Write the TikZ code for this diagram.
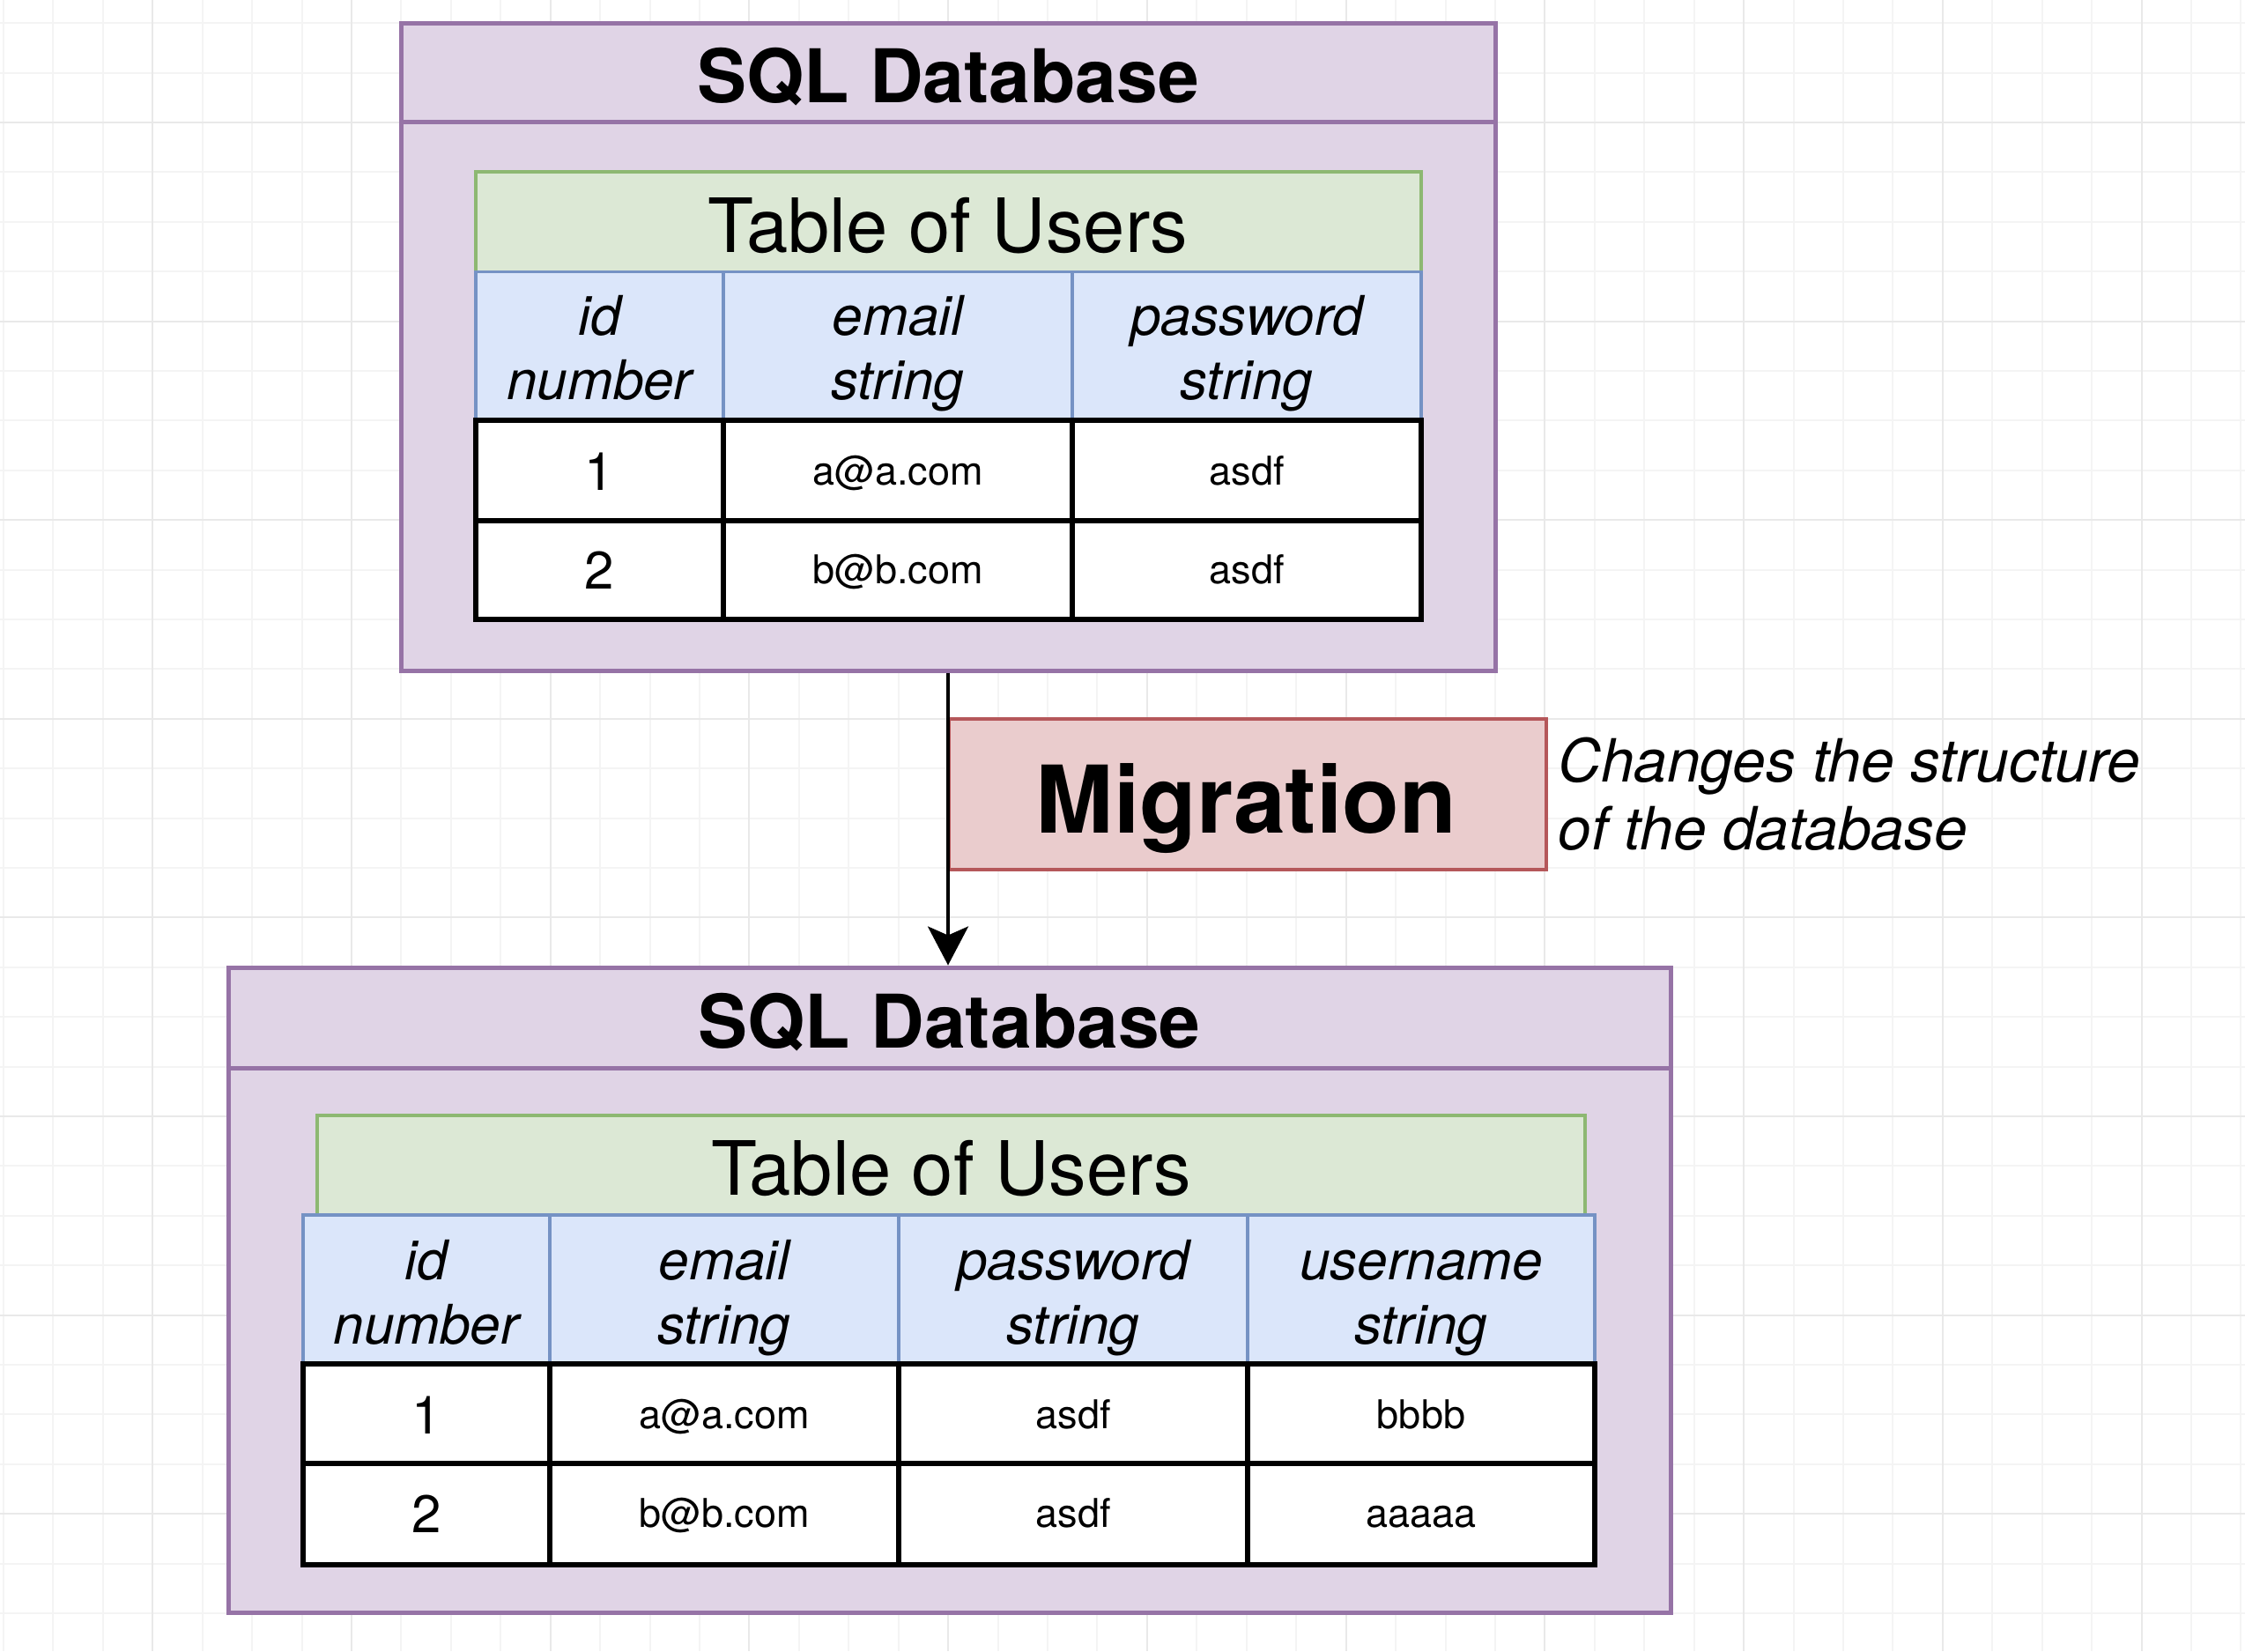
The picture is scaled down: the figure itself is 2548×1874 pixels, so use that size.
\documentclass[tikz,border=0pt]{standalone}
\usepackage{fontspec}
\setmainfont{TeX Gyre Heros}
\usetikzlibrary{fit,arrows.meta}
\definecolor{dbfill}{HTML}{E0D4E6}
\definecolor{dbdraw}{HTML}{9673A6}
\definecolor{grfill}{HTML}{DCE8D5}
\definecolor{grdraw}{HTML}{8DB872}
\definecolor{blfill}{HTML}{DBE6FA}
\definecolor{bldraw}{HTML}{7592C4}
\definecolor{mgfill}{HTML}{EACCCD}
\definecolor{mgdraw}{HTML}{B5575A}
\definecolor{gridminor}{HTML}{F4F4F4}
\definecolor{gridmajor}{HTML}{E9E9E9}
\newcommand\fTitle{\fontsize{42pt}{50pt}\selectfont\bfseries}
\newcommand\fTable{\fontsize{42.5pt}{50pt}\selectfont}
\newcommand\fHead{\fontsize{31pt}{36.5pt}\selectfont\itshape}
\newcommand\fId{\fontsize{30pt}{36pt}\selectfont}
\newcommand\fVal{\fontsize{22.5pt}{27pt}\selectfont}
\newcommand\fMig{\fontsize{53pt}{64pt}\selectfont\bfseries}
\newcommand\fNote{\fontsize{33.8pt}{38.5pt}\selectfont\itshape}
\newcommand\twoline[2]{\vtop{\baselineskip=36.5pt\halign{\hfil##\hfil\cr #1\cr #2\cr}}}
\tikzset{
  dbbox/.style={inner sep=0pt, draw=dbdraw, fill=dbfill, line width=2.5pt},
  dbline/.style={draw=dbdraw, line width=2.5pt},
  greenhead/.style={inner sep=0pt, draw=grdraw, fill=grfill, line width=1.8pt},
  bluecell/.style={inner sep=0pt, draw=bldraw, fill=blfill, line width=1.8pt},
  datacell/.style={inner sep=0pt, draw=black, fill=white, line width=3pt},
  migbox/.style={inner sep=0pt, draw=mgdraw, fill=mgfill, line width=2pt},
  txt/.style={inner sep=0pt, anchor=base},
  minorgrid/.style={draw=gridminor, line width=1pt},
  majorgrid/.style={draw=gridmajor, line width=1pt},
  flow/.style={draw=black, line width=1.8pt, -{Stealth[length=22pt, width=23pt, inset=5pt]}}
}
\begin{document}
\begin{tikzpicture}[x=0.5pt,y=-0.5pt]
\useasboundingbox (0,0) rectangle (2548,1874);
\fill[white] (0,0) rectangle (2548,1874);
% background grid
\foreach \i in {-3,...,42}{\draw[minorgrid] ({173.3+56.43*\i},0) -- ({173.3+56.43*\i},1874);}
\foreach \i in {-2,...,31}{\draw[minorgrid] (0,{139+56.4*\i}) -- (2548,{139+56.4*\i});}
\foreach \i in {0,...,10}{\draw[majorgrid] ({173.3+225.72*\i},0) -- ({173.3+225.72*\i},1874);}
\foreach \i in {0,...,7}{\draw[majorgrid] (0,{139+225.6*\i}) -- (2548,{139+225.6*\i});}

% ---------- top database ----------
\node[dbbox, fit={(455,26) (1697,761)}] (db1) {};
\draw[dbline] (455,138) -- (1697,138);
\node[txt, font=\fTitle] (t1) at (1076,116) {SQL Database};
\node[greenhead, fit={(540,195) (1613,308.5)}] (g1) {};
\node[txt, font=\fTable] (g1t) at (1076,286) {Table of Users};
\foreach \a/\b/\n in {540/821/1,821/1217/2,1217/1613/3}{
  \node[bluecell, fit={(\a,308.5) (\b,476.6)}] (ha\n) {};
  \node[datacell, fit={(\a,476.6) (\b,591)}] (ra\n) {};
  \node[datacell, fit={(\a,591) (\b,702.5)}] (sa\n) {};
}
\node[txt, font=\fHead] (ha1t) at (680.5,380.6) {\twoline{id}{number}};
\node[txt, font=\fHead] (ha2t) at (1019,380.6) {\twoline{email}{string}};
\node[txt, font=\fHead] (ha3t) at (1415,380.6) {\twoline{password}{string}};
\node[txt, font=\fId] (ra1t) at (680.5,556) {1};
\node[txt, font=\fVal] (ra2t) at (1019,550.5) {a@a.com};
\node[txt, font=\fVal] (ra3t) at (1415,550.5) {asdf};
\node[txt, font=\fId] (sa1t) at (680.5,668.5) {2};
\node[txt, font=\fVal] (sa2t) at (1019,662.5) {b@b.com};
\node[txt, font=\fVal] (sa3t) at (1415,662.5) {asdf};

% ---------- bottom database ----------
\node[dbbox, fit={(259,1098) (1896,1830)}] (db2) {};
\draw[dbline] (259,1212) -- (1896,1212);
\node[txt, font=\fTitle] (t2) at (1077.5,1189) {SQL Database};
\node[greenhead, fit={(360,1266) (1799,1379)}] (g2) {};
\node[txt, font=\fTable] (g2t) at (1079.5,1356) {Table of Users};
\foreach \a/\b/\n in {344/624/1,624/1020/2,1020/1416/3,1416/1810/4}{
  \node[bluecell, fit={(\a,1379) (\b,1548)}] (hb\n) {};
  \node[datacell, fit={(\a,1548) (\b,1661)}] (rb\n) {};
  \node[datacell, fit={(\a,1661) (\b,1776)}] (sb\n) {};
}
\node[txt, font=\fHead] (hb1t) at (484,1452) {\twoline{id}{number}};
\node[txt, font=\fHead] (hb2t) at (822,1452) {\twoline{email}{string}};
\node[txt, font=\fHead] (hb3t) at (1218,1452) {\twoline{password}{string}};
\node[txt, font=\fHead] (hb4t) at (1613,1452) {\twoline{username}{string}};
\node[txt, font=\fId] (rb1t) at (484,1627) {1};
\node[txt, font=\fVal] (rb2t) at (822,1621.5) {a@a.com};
\node[txt, font=\fVal] (rb3t) at (1218,1621.5) {asdf};
\node[txt, font=\fVal] (rb4t) at (1613,1621.5) {bbbb};
\node[txt, font=\fId] (sb1t) at (484,1739.5) {2};
\node[txt, font=\fVal] (sb2t) at (822,1733.5) {b@b.com};
\node[txt, font=\fVal] (sb3t) at (1218,1733.5) {asdf};
\node[txt, font=\fVal] (sb4t) at (1613,1733.5) {aaaaa};

% ---------- migration ----------
\node[migbox, fit={(1077,816) (1755,987)}] (mig) {};
\node[txt, font=\fMig] (migt) at (1414.5,945) {Migration};
\node[txt, anchor=base west, font=\fNote] (note) at (1768,887)
  {\vtop{\baselineskip=38.5pt\hbox{Changes the structure}\hbox{of the database}}};

\draw[flow] (db1.south) -- (db1.south |- db2.north);
\end{tikzpicture}
\end{document}
